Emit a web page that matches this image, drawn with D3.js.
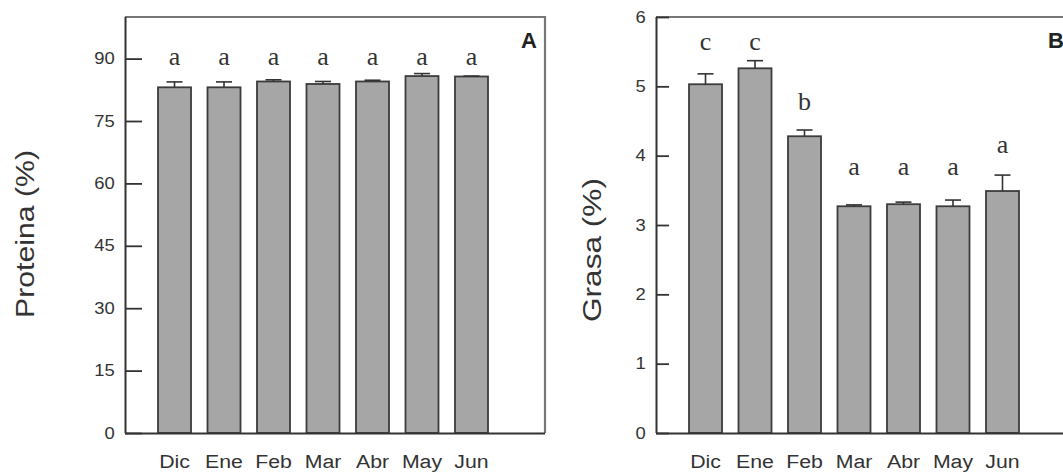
<!DOCTYPE html>
<html>
<head>
<meta charset="utf-8">
<script src="https://cdn.jsdelivr.net/npm/d3@7/dist/d3.min.js"></script>
<style>
  html, body { margin: 0; padding: 0; background: #fff; overflow: hidden; }
  svg { display: block; }
</style>
</head>
<body>
<svg id="chart" width="1063" height="474"></svg>
<script>
// ---------- data ----------
const months = ["Dic", "Ene", "Feb", "Mar", "Abr", "May", "Jun"];

const proteina     = [83.1, 83.1, 84.5, 83.9, 84.5, 85.8, 85.7];
const proteinaErr  = [1.3, 1.3, 0.4, 0.6, 0.3, 0.6, 0.1];
const proteinaLetters = ["a", "a", "a", "a", "a", "a", "a"];
const proteinaLetterLevel = [88.5, 88.5, 88.5, 88.5, 88.5, 88.5, 88.5];
const proteinaTicks = [0, 15, 30, 45, 60, 75, 90];

const grasa     = [5.03, 5.26, 4.28, 3.27, 3.30, 3.27, 3.49];
const grasaErr  = [0.15, 0.11, 0.09, 0.02, 0.03, 0.09, 0.23];
const grasaLetters = ["c", "c", "b", "a", "a", "a", "a"];
const grasaLetterLevel = [5.53, 5.53, 4.66, 3.72, 3.72, 3.72, 4.04];
const grasaTicks = [0, 1, 2, 3, 4, 5, 6];

// ---------- drawing ----------
const svg = d3.select("#chart");

function panel(opts) {
  const { left, right, top, bottom, yMax, values, errs, letters, letterLevel,
          ticks, tickLen, yLabel, yLabelX, yLabelY, yLabelLen, tag, tagX, tagAnchor } = opts;
  const g = svg.append("g");

  const y = d3.scaleLinear().domain([0, yMax]).range([bottom, top]);
  const step = 49.5;
  const x = d3.scaleBand().domain(months)
      .range([left + 24.75, left + 24.75 + step * months.length])
      .paddingInner(0.333).paddingOuter(0.1667);

  // frame: top and right in lighter grey
  g.append("path")
    .attr("d", `M${left},${top}H${right}V${bottom}`)
    .attr("fill", "none").attr("stroke", "#777").attr("stroke-width", 2.2);

  // bars
  g.selectAll("rect.bar").data(values).join("rect")
    .attr("class", "bar")
    .attr("x", (d, i) => x(months[i]))
    .attr("width", x.bandwidth())
    .attr("y", d => y(d))
    .attr("height", d => y(0) - y(d))
    .attr("fill", "#a6a6a6")
    .attr("stroke", "#3c3c3c")
    .attr("stroke-width", 1.8);

  // error bars
  const capW = 16;
  const eb = g.selectAll("g.err").data(values).join("g").attr("class", "err")
    .attr("stroke", "#333").attr("stroke-width", 1.6);
  eb.append("line")
    .attr("x1", (d, i) => x(months[i]) + x.bandwidth() / 2)
    .attr("x2", (d, i) => x(months[i]) + x.bandwidth() / 2)
    .attr("y1", d => y(d))
    .attr("y2", (d, i) => y(d + errs[i]));
  eb.append("line")
    .attr("x1", (d, i) => x(months[i]) + x.bandwidth() / 2 - capW / 2)
    .attr("x2", (d, i) => x(months[i]) + x.bandwidth() / 2 + capW / 2)
    .attr("y1", (d, i) => y(d + errs[i]))
    .attr("y2", (d, i) => y(d + errs[i]));

  // significance letters
  g.selectAll("text.letter").data(letters).join("text")
    .attr("class", "letter")
    .attr("x", (d, i) => x(months[i]) + x.bandwidth() / 2)
    .attr("y", (d, i) => y(letterLevel[i]))
    .attr("text-anchor", "middle")
    .attr("font-family", "'Liberation Serif', 'Times New Roman', serif")
    .attr("font-size", 26)
    .attr("fill", "#333")
    .text(d => d);

  // y axis
  const yAxis = d3.axisLeft(y).tickValues(ticks).tickFormat(d3.format("d"))
    .tickSizeInner(-tickLen).tickSizeOuter(0).tickPadding(9);
  const ya = g.append("g").attr("transform", `translate(${left},0)`).call(yAxis);
  ya.select(".domain").attr("d", `M0.5,${top}V${bottom}`)
    .attr("stroke", "#333").attr("stroke-width", 2);
  ya.selectAll(".tick line").attr("stroke", "#333").attr("stroke-width", 1.8);
  ya.selectAll(".tick text")
    .attr("font-family", "'Liberation Sans', Arial, sans-serif")
    .attr("font-size", 16).attr("fill", "#333")
    .attr("transform", "scale(1.15,1)");

  // x axis (labels only)
  const xAxis = d3.axisBottom(x).tickSize(0).tickPadding(22);
  const xa = g.append("g").attr("transform", `translate(0,${bottom})`).call(xAxis);
  xa.select(".domain").attr("d", `M${left},0.5H${right}`)
    .attr("stroke", "#333").attr("stroke-width", 2.2);
  xa.selectAll(".tick text")
    .attr("font-family", "'Liberation Sans', Arial, sans-serif")
    .attr("font-size", 19).attr("fill", "#333")
    .attr("transform", "scale(1.12,1)");

  // y label
  g.append("text")
    .attr("transform", `translate(${yLabelX},${yLabelY}) rotate(-90)`)
    .attr("text-anchor", "middle")
    .attr("dy", "0.36em")
    .attr("font-family", "'Liberation Sans', Arial, sans-serif")
    .attr("font-size", 26).attr("fill", "#333")
    .attr("textLength", yLabelLen).attr("lengthAdjust", "spacingAndGlyphs")
    .text(yLabel);

  // panel tag
  g.append("text")
    .attr("x", tagX).attr("y", top + 31)
    .attr("text-anchor", tagAnchor)
    .attr("font-family", "'Liberation Sans', Arial, sans-serif")
    .attr("font-weight", "bold")
    .attr("font-size", 22).attr("fill", "#222")
    .text(tag);
}

panel({
  left: 125, right: 545, top: 17, bottom: 433, yMax: 100,
  values: proteina, errs: proteinaErr, letters: proteinaLetters, letterLevel: proteinaLetterLevel,
  ticks: proteinaTicks, tickLen: 17,
  yLabel: "Proteina (%)", yLabelX: 25, yLabelY: 234, yLabelLen: 168,
  tag: "A", tagX: 537, tagAnchor: "end"
});

panel({
  left: 656, right: 1075, top: 17, bottom: 433, yMax: 6,
  values: grasa, errs: grasaErr, letters: grasaLetters, letterLevel: grasaLetterLevel,
  ticks: grasaTicks, tickLen: 13,
  yLabel: "Grasa  (%)", yLabelX: 592, yLabelY: 250, yLabelLen: 144,
  tag: "B", tagX: 1048, tagAnchor: "start"
});
</script>
</body>
</html>
